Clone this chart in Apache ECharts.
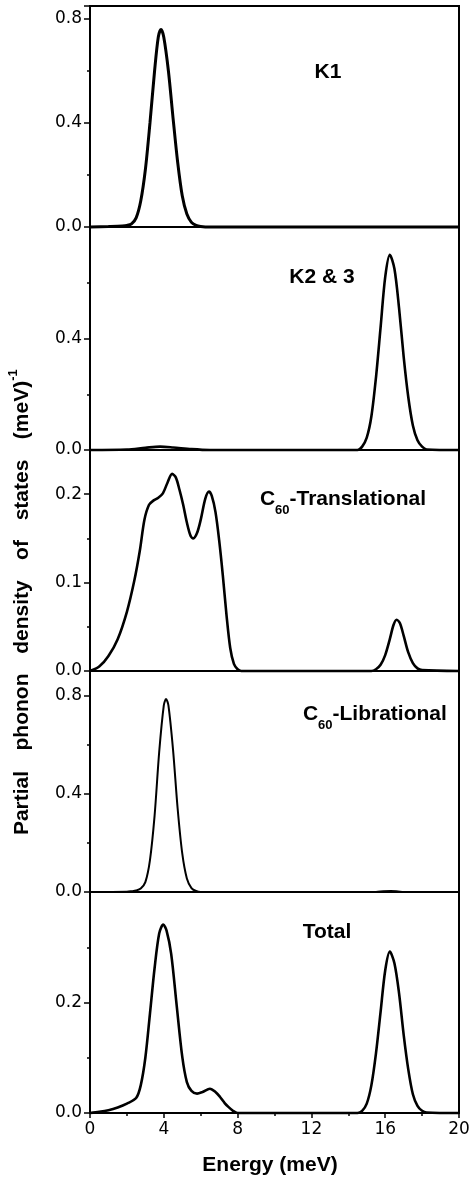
<!DOCTYPE html>
<html>
<head>
<meta charset="utf-8">
<script src="https://cdn.jsdelivr.net/npm/echarts@6/dist/echarts.min.js"></script>
<style>
html,body{margin:0;padding:0;background:#fff;}
#chart{width:474px;height:1182px;}
</style>
</head>
<body>
<div id="chart"></div>
<script>
// ---- data (energy in meV, partial phonon DOS in meV^-1) ----
const k1Energy = [0, 1.0, 1.75, 2.0, 2.25, 2.5, 2.75, 3.0, 3.25, 3.5, 3.7, 3.85, 4.0, 4.25, 4.5, 4.75, 5.0, 5.25, 5.5, 5.75, 6.0, 6.5, 20];
const k1Values = [0, 0.002, 0.004, 0.006, 0.012, 0.035, 0.10, 0.22, 0.40, 0.60, 0.73, 0.76, 0.73, 0.60, 0.42, 0.25, 0.12, 0.05, 0.018, 0.006, 0.002, 0, 0];

const k23Energy = [0, 2.0, 3.0, 3.8, 4.5, 5.5, 6.5, 14.5, 14.75, 15.0, 15.25, 15.5, 15.75, 16.0, 16.25, 16.5, 16.75, 17.0, 17.25, 17.5, 17.75, 18.0, 18.25, 20];
const k23Values = [0, 0.002, 0.008, 0.012, 0.009, 0.003, 0, 0, 0.012, 0.044, 0.12, 0.26, 0.44, 0.62, 0.70, 0.65, 0.51, 0.335, 0.19, 0.088, 0.035, 0.012, 0.002, 0];

const transEnergy = [0, 0.5, 1.0, 1.5, 2.0, 2.4, 2.7, 2.95, 3.2, 3.45, 3.7, 3.95, 4.2, 4.45, 4.65, 4.85, 5.05, 5.25, 5.45, 5.6, 5.8, 6.0, 6.25, 6.45, 6.6, 6.8, 7.0, 7.2, 7.4, 7.6, 7.8, 8.0, 8.2, 15.25, 15.5, 15.75, 16.0, 16.25, 16.45, 16.62, 16.8, 17.0, 17.25, 17.5, 17.75, 18.0, 20];
const transValues = [0, 0.005, 0.017, 0.036, 0.067, 0.102, 0.136, 0.171, 0.188, 0.193, 0.196, 0.201, 0.213, 0.223, 0.219, 0.205, 0.188, 0.168, 0.153, 0.150, 0.156, 0.171, 0.195, 0.203, 0.198, 0.180, 0.148, 0.108, 0.063, 0.026, 0.008, 0.002, 0, 0, 0.002, 0.007, 0.018, 0.036, 0.052, 0.058, 0.054, 0.040, 0.021, 0.009, 0.003, 0.001, 0];

const librEnergy = [0, 2.0, 2.25, 2.5, 2.75, 3.0, 3.25, 3.5, 3.75, 4.0, 4.12, 4.25, 4.5, 4.75, 5.0, 5.25, 5.5, 5.75, 6.0, 15.5, 15.9, 16.3, 16.7, 17.0, 20];
const librValues = [0, 0.001, 0.003, 0.006, 0.014, 0.04, 0.13, 0.31, 0.57, 0.76, 0.786, 0.76, 0.58, 0.34, 0.157, 0.055, 0.016, 0.004, 0, 0, 0.003, 0.004, 0.002, 0, 0];

const totalEnergy = [0, 0.5, 1.0, 1.5, 2.0, 2.5, 2.75, 3.0, 3.25, 3.5, 3.75, 3.97, 4.15, 4.4, 4.7, 5.0, 5.25, 5.5, 5.8, 6.1, 6.5, 6.8, 7.05, 7.3, 7.5, 7.75, 8.0, 14.5, 14.75, 15.0, 15.25, 15.5, 15.75, 16.0, 16.25, 16.5, 16.75, 17.0, 17.25, 17.5, 17.75, 18.0, 18.25, 20];
const totalValues = [0, 0.002, 0.005, 0.010, 0.017, 0.027, 0.050, 0.100, 0.180, 0.262, 0.325, 0.341, 0.330, 0.288, 0.194, 0.102, 0.056, 0.040, 0.035, 0.038, 0.044, 0.038, 0.029, 0.018, 0.011, 0.004, 0, 0, 0.004, 0.017, 0.050, 0.108, 0.183, 0.258, 0.292, 0.271, 0.217, 0.142, 0.079, 0.034, 0.013, 0.004, 0.001, 0];

// axis settings per panel
const yMax = [0.85, 0.8, 0.25, 0.9, 0.4];
const yInterval = [0.4, 0.4, 0.1, 0.4, 0.2];
const yLabelValues = [[0, 0.4, 0.8], [0, 0.4], [0, 0.1, 0.2], [0, 0.4, 0.8], [0, 0.2]];
const xTicks = [0, 4, 8, 12, 16, 20];
const panelNames = ['K1', 'K2 & 3', 'C60-Translational', 'C60-Librational', 'Total'];

// ---- layout ----
const panelTops = [6, 227, 450, 671, 892];
const panelHeights = [221, 223, 221, 221, 221];
const lineWidths = [3, 2.6, 2.6, 2, 2.6];
const seriesSets = [
  [k1Energy, k1Values], [k23Energy, k23Values], [transEnergy, transValues],
  [librEnergy, librValues], [totalEnergy, totalValues]
];

const labelFont = 'DejaVu Sans';
const boldFont = 'bold 21px "Liberation Sans", Arial, sans-serif';

const grids = [], xAxes = [], yAxes = [], series = [];
for (let i = 0; i < 5; i++) {
  const isBottom = i === 4;
  grids.push({left: 90, width: 369, top: panelTops[i], height: panelHeights[i],
    show: true, borderColor: '#000', borderWidth: 2, backgroundColor: 'transparent'});
  xAxes.push({
    type: 'value', gridIndex: i, min: xTicks[0], max: xTicks[xTicks.length - 1], interval: 4,
    axisLine: {show: true, onZero: false, lineStyle: {color: '#000', width: 2}},
    axisTick: {show: isBottom, length: 5, lineStyle: {color: '#000', width: 1.5}},
    minorTick: {show: isBottom, splitNumber: 2, length: 3, lineStyle: {color: '#000', width: 1.5}},
    axisLabel: {show: isBottom, margin: 8, color: '#000', fontFamily: labelFont, fontSize: 17},
    splitLine: {show: false}, minorSplitLine: {show: false}
  });
  const labs = yLabelValues[i];
  yAxes.push({
    type: 'value', gridIndex: i, min: 0, max: yMax[i], interval: yInterval[i],
    axisLine: {show: true, onZero: false, lineStyle: {color: '#000', width: 2}},
    axisTick: {show: true, length: 6, lineStyle: {color: '#000', width: 1.5}},
    minorTick: {show: true, splitNumber: 2, length: 3, lineStyle: {color: '#000', width: 1.5}},
    axisLabel: {show: true, margin: 8, color: '#000', fontFamily: labelFont, fontSize: 17,
      showMaxLabel: false,
      formatter: function (v) {
        for (const l of labs) { if (Math.abs(l - v) < 1e-6) return l.toFixed(1); }
        return '';
      }},
    splitLine: {show: false}, minorSplitLine: {show: false}
  });
  const [ex, ey] = seriesSets[i];
  series.push({
    name: panelNames[i], type: 'line', xAxisIndex: i, yAxisIndex: i,
    data: ex.map((e, j) => [e, ey[j]]),
    showSymbol: false, smooth: 0.3, clip: false,
    lineStyle: {color: '#000', width: lineWidths[i]}
  });
}

function txt(x, y, text, font, opts) {
  return Object.assign({type: 'text', x: x, y: y, silent: true,
    style: {text: text, font: font, fill: '#000',
      align: (opts && opts.align) || 'center', verticalAlign: 'middle'}}, (opts && opts.extra) || {});
}
const subFont = 'bold 13px "Liberation Sans", Arial, sans-serif';
const rot = {extra: {rotation: Math.PI / 2}};
const graphic = [
  txt(328, 72, 'K1', boldFont),
  txt(322, 277, 'K2 & 3', boldFont),
  txt(260, 499, 'C', boldFont, {align: 'left'}),
  txt(275, 510, '60', subFont, {align: 'left'}),
  txt(289.5, 499, '-Translational', boldFont, {align: 'left'}),
  txt(303, 714, 'C', boldFont, {align: 'left'}),
  txt(318, 725, '60', subFont, {align: 'left'}),
  txt(332.5, 714, '-Librational', boldFont, {align: 'left'}),
  txt(327, 932, 'Total', boldFont),
  txt(270, 1165, 'Energy (meV)', boldFont),
  txt(22, 803, 'Partial', boldFont, rot),
  txt(22, 712, 'phonon', boldFont, rot),
  txt(22, 617, 'density', boldFont, rot),
  txt(22, 550, 'of', boldFont, rot),
  txt(22, 490, 'states', boldFont, rot),
  txt(22, 410, '(meV)', boldFont, rot),
  txt(13, 375, '-1', subFont, rot)
];

const chart = echarts.init(document.getElementById('chart'), null, {renderer: 'canvas'});
chart.setOption({
  animation: false,
  backgroundColor: '#fff',
  grid: grids, xAxis: xAxes, yAxis: yAxes, series: series, graphic: graphic
});
</script>
</body>
</html>
